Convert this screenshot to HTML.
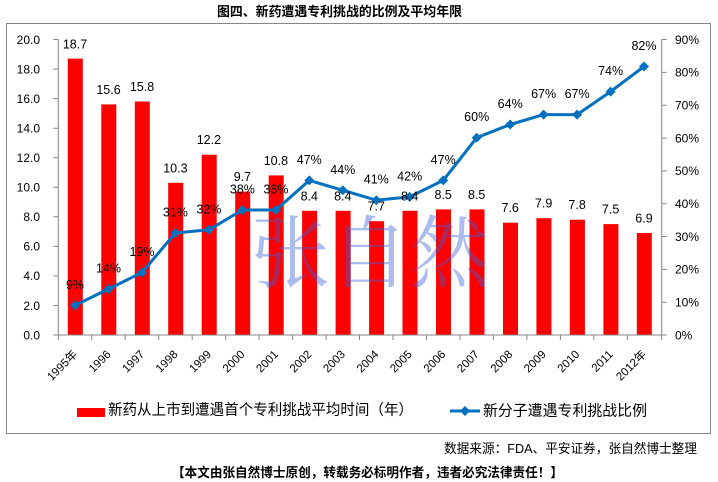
<!DOCTYPE html>
<html>
<head>
<meta charset="utf-8">
<style>
html,body{margin:0;padding:0;background:#fff;}
svg{display:block;}
.ax{font-family:"Liberation Sans","Noto Sans CJK SC",sans-serif;font-size:12px;fill:#000;}
.dl{font-family:"Liberation Sans","Noto Sans CJK SC",sans-serif;font-size:12.5px;fill:#000;text-anchor:middle;}
.xl{font-family:"Liberation Sans","Noto Sans CJK SC",sans-serif;font-size:11.5px;fill:#000;text-anchor:end;}
.cn{font-family:"Liberation Sans","Noto Sans CJK SC",sans-serif;}
</style>
</head>
<body>
<svg width="718" height="482" viewBox="0 0 718 482" xmlns="http://www.w3.org/2000/svg">
<rect x="0" y="0" width="718" height="482" fill="#fff"/>
<!-- title -->
<text class="cn" x="217" y="16" font-size="13" font-weight="bold" textLength="245" lengthAdjust="spacingAndGlyphs">图四、新药遭遇专利挑战的比例及平均年限</text>
<!-- chart border -->
<rect x="6.5" y="23.5" width="704" height="410" fill="none" stroke="#868686" stroke-width="1"/>

<!-- bars -->
<g fill="#ff0000">
<rect x="67.8" y="58.6" width="15" height="276.4"/>
<rect x="101.3" y="104.4" width="15" height="230.6"/>
<rect x="134.8" y="101.5" width="15" height="233.5"/>
<rect x="168.2" y="182.8" width="15" height="152.2"/>
<rect x="201.7" y="154.7" width="15" height="180.3"/>
<rect x="235.2" y="191.6" width="15" height="143.4"/>
<rect x="268.7" y="175.4" width="15" height="159.6"/>
<rect x="302.1" y="210.8" width="15" height="124.2"/>
<rect x="335.6" y="210.8" width="15" height="124.2"/>
<rect x="369.1" y="221.2" width="15" height="113.8"/>
<rect x="402.5" y="210.8" width="15" height="124.2"/>
<rect x="436.0" y="209.4" width="15" height="125.6"/>
<rect x="469.5" y="209.4" width="15" height="125.6"/>
<rect x="503.0" y="222.7" width="15" height="112.3"/>
<rect x="536.4" y="218.2" width="15" height="116.8"/>
<rect x="569.9" y="219.7" width="15" height="115.3"/>
<rect x="603.4" y="224.1" width="15" height="110.9"/>
<rect x="636.8" y="233.0" width="15" height="102.0"/>
</g>

<!-- axes -->
<g stroke="#868686" stroke-width="1" fill="none">
<line x1="58.3" y1="39.5" x2="58.3" y2="335"/>
<line x1="661.7" y1="39.5" x2="661.7" y2="335"/>
<line x1="58.3" y1="335" x2="661.7" y2="335"/>
<!-- left ticks -->
<path d="M53.3 39.5H58.3M53.3 69.1H58.3M53.3 98.6H58.3M53.3 128.2H58.3M53.3 157.7H58.3M53.3 187.3H58.3M53.3 216.8H58.3M53.3 246.4H58.3M53.3 275.9H58.3M53.3 305.5H58.3M53.3 335H58.3"/>
<!-- right ticks -->
<path d="M661.7 39.5H666.7M661.7 72.4H666.7M661.7 105.2H666.7M661.7 138.1H666.7M661.7 170.9H666.7M661.7 203.8H666.7M661.7 236.5H666.7M661.7 269.4H666.7M661.7 302.2H666.7M661.7 335H666.7"/>
<!-- x ticks -->
<path d="M58.3 335V340M91.8 335V340M125.2 335V340M158.7 335V340M192.2 335V340M225.7 335V340M259.1 335V340M292.6 335V340M326.1 335V340M359.5 335V340M393.0 335V340M426.5 335V340M460.0 335V340M493.4 335V340M526.9 335V340M560.4 335V340M593.8 335V340M627.3 335V340M661.7 335V340"/>
</g>

<!-- left axis labels -->
<g class="ax" text-anchor="end">
<text x="40" y="43.8">20.0</text>
<text x="40" y="73.4">18.0</text>
<text x="40" y="102.9">16.0</text>
<text x="40" y="132.5">14.0</text>
<text x="40" y="162.0">12.0</text>
<text x="40" y="191.6">10.0</text>
<text x="40" y="221.1">8.0</text>
<text x="40" y="250.7">6.0</text>
<text x="40" y="280.2">4.0</text>
<text x="40" y="309.8">2.0</text>
<text x="40" y="339.3">0.0</text>
</g>
<!-- right axis labels -->
<g class="ax">
<text x="675" y="43.8">90%</text>
<text x="675" y="76.7">80%</text>
<text x="675" y="109.5">70%</text>
<text x="675" y="142.4">60%</text>
<text x="675" y="175.2">50%</text>
<text x="675" y="208.1">40%</text>
<text x="675" y="240.8">30%</text>
<text x="675" y="273.7">20%</text>
<text x="675" y="306.5">10%</text>
<text x="675" y="339.3">0%</text>
</g>

<!-- x labels -->
<g class="xl">
<text transform="translate(78,355) rotate(-45)">1995年</text>
<text transform="translate(111.5,355) rotate(-45)">1996</text>
<text transform="translate(145,355) rotate(-45)">1997</text>
<text transform="translate(178.4,355) rotate(-45)">1998</text>
<text transform="translate(211.9,355) rotate(-45)">1999</text>
<text transform="translate(245.4,355) rotate(-45)">2000</text>
<text transform="translate(278.9,355) rotate(-45)">2001</text>
<text transform="translate(312.3,355) rotate(-45)">2002</text>
<text transform="translate(345.8,355) rotate(-45)">2003</text>
<text transform="translate(379.3,355) rotate(-45)">2004</text>
<text transform="translate(412.7,355) rotate(-45)">2005</text>
<text transform="translate(446.2,355) rotate(-45)">2006</text>
<text transform="translate(479.7,355) rotate(-45)">2007</text>
<text transform="translate(513.2,355) rotate(-45)">2008</text>
<text transform="translate(546.6,355) rotate(-45)">2009</text>
<text transform="translate(580.1,355) rotate(-45)">2010</text>
<text transform="translate(613.6,355) rotate(-45)">2011</text>
<text transform="translate(647,355) rotate(-45)">2012年</text>
</g>

<!-- line -->
<polyline fill="none" stroke="#0070c0" stroke-width="3" stroke-linejoin="round"
points="75.0,305.4 108.5,289.0 142.0,272.5 175.4,233.0 208.9,229.8 242.4,210.0 275.9,210.0 309.3,180.4 342.8,190.3 376.3,200.2 409.7,196.9 443.2,180.4 476.7,137.7 510.2,124.5 543.6,114.6 577.1,114.6 610.6,91.6 644.0,66.5"/>
<g fill="#0070c0">
<path d="M75.0 300.4l5 5-5 5-5-5z"/>
<path d="M108.5 284.0l5 5-5 5-5-5z"/>
<path d="M142.0 267.5l5 5-5 5-5-5z"/>
<path d="M175.4 228.0l5 5-5 5-5-5z"/>
<path d="M208.9 224.8l5 5-5 5-5-5z"/>
<path d="M242.4 205.0l5 5-5 5-5-5z"/>
<path d="M275.9 205.0l5 5-5 5-5-5z"/>
<path d="M309.3 175.4l5 5-5 5-5-5z"/>
<path d="M342.8 185.3l5 5-5 5-5-5z"/>
<path d="M376.3 195.2l5 5-5 5-5-5z"/>
<path d="M409.7 191.9l5 5-5 5-5-5z"/>
<path d="M443.2 175.4l5 5-5 5-5-5z"/>
<path d="M476.7 132.7l5 5-5 5-5-5z"/>
<path d="M510.2 119.5l5 5-5 5-5-5z"/>
<path d="M543.6 109.6l5 5-5 5-5-5z"/>
<path d="M577.1 109.6l5 5-5 5-5-5z"/>
<path d="M610.6 86.6l5 5-5 5-5-5z"/>
<path d="M644.0 61.5l5 5-5 5-5-5z"/>
</g>

<!-- bar value labels -->
<g class="dl">
<text x="75.0" y="48.3">18.7</text>
<text x="108.5" y="93.9">15.6</text>
<text x="142.0" y="91.0">15.8</text>
<text x="175.4" y="172.3">10.3</text>
<text x="208.9" y="144.2">12.2</text>
<text x="242.4" y="181.1">9.7</text>
<text x="275.9" y="164.9">10.8</text>
<text x="309.3" y="200.3">8.4</text>
<text x="342.8" y="200.3">8.4</text>
<text x="376.3" y="210.7">7.7</text>
<text x="409.7" y="200.3">8.4</text>
<text x="443.2" y="198.9">8.5</text>
<text x="476.7" y="198.9">8.5</text>
<text x="510.2" y="212.2">7.6</text>
<text x="543.6" y="207.7">7.9</text>
<text x="577.1" y="209.2">7.8</text>
<text x="610.6" y="213.6">7.5</text>
<text x="644.0" y="222.5">6.9</text>
</g>
<!-- percent labels -->
<g class="dl">
<text x="75.0" y="288.9">9%</text>
<text x="108.5" y="272.5">14%</text>
<text x="142.0" y="256.0">19%</text>
<text x="175.4" y="216.5">31%</text>
<text x="208.9" y="213.3">32%</text>
<text x="242.4" y="193.5">38%</text>
<text x="275.9" y="193.5">38%</text>
<text x="309.3" y="163.9">47%</text>
<text x="342.8" y="173.8">44%</text>
<text x="376.3" y="183.7">41%</text>
<text x="409.7" y="180.4">42%</text>
<text x="443.2" y="163.9">47%</text>
<text x="476.7" y="121.2">60%</text>
<text x="510.2" y="108.0">64%</text>
<text x="543.6" y="98.1">67%</text>
<text x="577.1" y="98.1">67%</text>
<text x="610.6" y="75.1">74%</text>
<text x="644.0" y="50.0">82%</text>
</g>

<!-- watermark -->
<g font-family="'Noto Serif CJK SC','Liberation Serif',serif" font-size="79" fill="rgba(60,95,215,0.42)" text-anchor="middle">
<text x="290.5" y="281">张</text>
<text x="369.5" y="281">自</text>
<text x="449.5" y="281">然</text>
</g>

<!-- legend -->
<rect x="77" y="408" width="28" height="9" fill="#ff0000"/>
<text class="cn" x="108" y="414.7" font-size="14.8" textLength="305" lengthAdjust="spacingAndGlyphs">新药从上市到遭遇首个专利挑战平均时间（年）</text>
<line x1="450" y1="411" x2="480" y2="411" stroke="#0070c0" stroke-width="3"/>
<path d="M465 406l5 5-5 5-5-5z" fill="#0070c0"/>
<text class="cn" x="483" y="415.5" font-size="14.8" textLength="164" lengthAdjust="spacingAndGlyphs">新分子遭遇专利挑战比例</text>

<!-- source -->
<text class="cn" x="444" y="452.8" font-size="13" textLength="253" lengthAdjust="spacingAndGlyphs">数据来源：FDA、平安证券，张自然博士整理</text>
<text class="cn" x="172" y="476.8" font-size="13" font-weight="bold" textLength="391" lengthAdjust="spacingAndGlyphs">【本文由张自然博士原创，转载务必标明作者，违者必究法律责任！】</text>
</svg>
</body>
</html>
